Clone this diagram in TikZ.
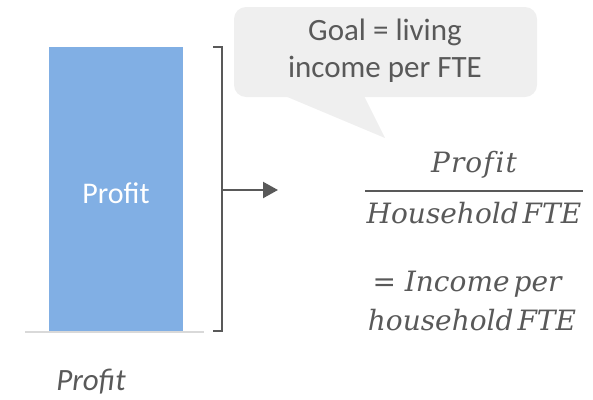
\documentclass[tikz,border=0pt]{standalone}
\usepackage{fontspec}
\setmainfont{Carlito}
\newfontfamily\mserif{DejaVu Serif}
\usetikzlibrary{arrows.meta}
\definecolor{barblue}{HTML}{81AFE4}
\definecolor{dk}{HTML}{595959}
\definecolor{callgray}{HTML}{EFEFEF}
\definecolor{basegray}{HTML}{D9D9D9}
\tikzset{
  mathtxt/.style={text=dk, inner sep=0pt, font=\mserif\itshape\fontsize{28}{32}\selectfont},
  connector/.style={draw=dk, line width=2.2pt}
}
\begin{document}
\begin{tikzpicture}[x=1pt,y=-1pt]
\useasboundingbox (0,0) rectangle (593,399);
% callout
\fill[callgray, rounded corners=12pt] (234,7) rectangle (537,97);
\fill[callgray] (285,96) -- (385,138) -- (364,96) -- cycle;
\node[text=dk, align=center, font=\fontsize{31}{37}\selectfont, inner sep=0pt] (goal) at (385,51) {Goal = living\\income per FTE};
% bar
\fill[barblue] (49,47) rectangle (183,331);
\draw[basegray, line width=1.2pt] (25,332) -- (204,332);
\node[text=white, font=\fontsize{30}{32}\selectfont, inner sep=0pt] (bartxt) at (116,193) {Profit};
\node[text=dk, font=\itshape\fontsize{31}{32}\selectfont, inner sep=0pt] (axis) at (91,382) {Profit};
% bracket
\coordinate (bt) at (213,47);
\coordinate (bb) at (213,331);
\draw[dk, line width=1.6pt] (bt) -- (222,47) -- (222,331) -- (bb);
\coordinate (arrS) at (222,190);
\coordinate (arrE) at (278,190);
\draw[connector, -{Triangle[length=15pt,width=16pt]}] (arrS) -- (arrE);
% math
\node[mathtxt] (num) at (474,165) {P\kern1pt r\kern1pt o\kern1pt f\kern2pt i\kern1pt t};
\draw[dk, line width=1.3pt] (365,191) -- (583,191);
\node[mathtxt] (den) at (474,213) {Household\kern4pt FTE};
\node[mathtxt] (eq1) at (467,284) {{\upshape =} Income\kern4pt per};
\node[mathtxt] (eq2) at (472,320) {household\kern4pt FTE};
\end{tikzpicture}
\end{document}
